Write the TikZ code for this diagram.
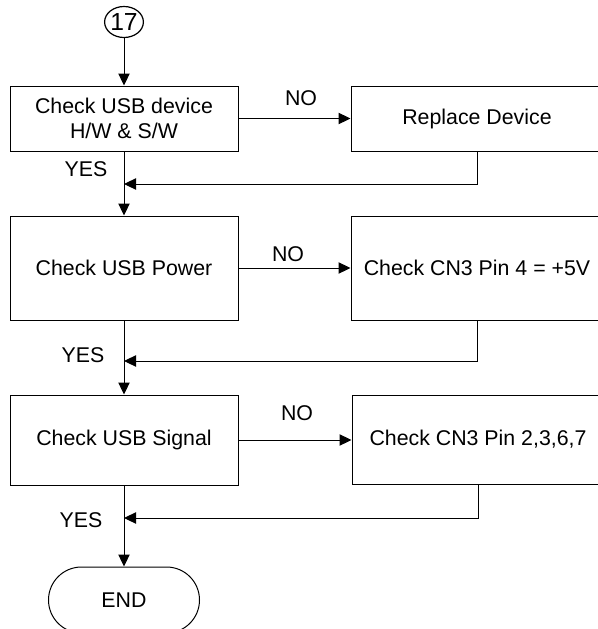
\documentclass[tikz,border=0pt]{standalone}
\usepackage{fontspec}
\setmainfont{Liberation Sans}
\usetikzlibrary{arrows.meta,shapes.geometric}

\tikzset{
  stepbox/.style={draw, line width=0.75pt, inner sep=0pt, align=center, font=\fontsize{16}{18.75}\selectfont},
  flowline/.style={draw, line width=0.75pt},
  flowarrow/.style={flowline, -{Triangle[length=9pt,width=8.5pt]}},
  lbl/.style={inner sep=0.75pt, font=\fontsize{16}{18.75}\selectfont}
}

\begin{document}
\begin{tikzpicture}[x=0.75pt,y=0.75pt,yscale=-1,xscale=1]
\clip (0,0) rectangle (598,629);

%Shape: Ellipse [id:connector17]
\node (conn) [draw, ellipse, line width=0.9pt, minimum width=28.5pt, minimum height=23.25pt, inner sep=0pt, font=\fontsize{18.5}{20}\selectfont] at (124,22) {17};

%Shape: Rectangle [id:chkdev]
\node (chkdev) [stepbox, minimum width=171pt, minimum height=48.75pt] at (124,118.5) {Check USB device\\H/W \& S/W};
%Shape: Rectangle [id:repdev]
\node (repdev) [stepbox, minimum width=189pt, minimum height=48.75pt] at (477,118.5) {Replace Device};
%Shape: Rectangle [id:chkpwr]
\node (chkpwr) [stepbox, minimum width=171pt, minimum height=78pt] at (124,268) {Check USB Power};
%Shape: Rectangle [id:pinpwr]
\node (pinpwr) [stepbox, minimum width=189pt, minimum height=78pt] at (477,268) {Check CN3 Pin 4 = +5V};
%Shape: Rectangle [id:chksig]
\node (chksig) [stepbox, minimum width=171pt, minimum height=67.5pt] at (124,440) {Check USB Signal};
%Shape: Rectangle [id:pinsig]
\node (pinsig) [stepbox, minimum width=189pt, minimum height=66.75pt] at (478,439.5) {Check CN3 Pin 2,3,6,7};
%Shape: Terminator [id:finish]
\node (finish) [stepbox, rounded corners=24.75pt, minimum width=113.25pt, minimum height=49.5pt] at (124,600) {END};

%Joins on the main line
\coordinate (join1) at (124,184);
\coordinate (join2) at (124,361);
\coordinate (join3) at (124,518);

%Straight Lines
\draw [flowarrow] (conn) -- (chkdev);
\draw [flowarrow] (chkdev) -- (chkpwr);
\draw [flowarrow] (chkpwr) -- (chksig);
\draw [flowarrow] (chksig) -- (finish);
%NO branches
\draw [flowarrow] (chkdev) -- (repdev);
\draw [flowarrow] (chkpwr) -- (pinpwr);
\draw [flowarrow] (chksig.east) -- (chksig.east -| pinsig.west);
%Returns
\draw [flowarrow] (repdev.south) |- (join1);
\draw [flowarrow] (pinpwr.south) |- (join2);
\draw [flowarrow] (pinsig.south) |- (join3);

% Text Node
\node (no1) [lbl] at (301,98) {NO};
% Text Node
\node (no2) [lbl] at (288,254) {NO};
% Text Node
\node (no3) [lbl] at (297,413) {NO};
% Text Node
\node (yes1) [lbl] at (86,169) {YES};
% Text Node
\node (yes2) [lbl] at (83,355) {YES};
% Text Node
\node (yes3) [lbl] at (81,520) {YES};

\end{tikzpicture}
\end{document}
